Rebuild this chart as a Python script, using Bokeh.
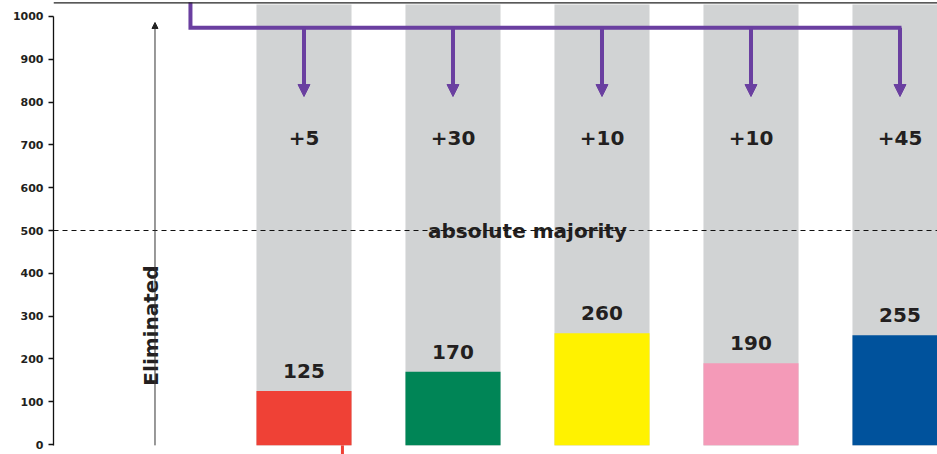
import math
from bokeh.plotting import figure
from bokeh.models import Range1d, FixedTicker, Span, Arrow, NormalHead, ColumnDataSource
from bokeh.core.properties import value
from bokeh.embed import file_html
from bokeh.resources import INLINE

# ---- data ----
positions = [0, 1, 2, 3, 4]
seats = [125, 170, 260, 190, 255]
transfers = ["+5", "+30", "+10", "+10", "+45"]
bar_colors = ["#EF4136", "#008556", "#FFF200", "#F49AB8", "#00529C"]
y_ticks = [0, 100, 200, 300, 400, 500, 600, 700, 800, 900, 1000]
majority = 500
majority_label = "absolute majority"
eliminated_label = "Eliminated"

GRAY = "#D1D3D4"
PURPLE = "#6A3FA0"
TEXT = "#231F20"
FONT = "DejaVu Sans"

p = figure(width=937, height=454, output_backend="svg", toolbar_location=None,
           x_range=Range1d(-1.6812, 4.2517), y_range=Range1d(-23.36, 1037.38),
           x_axis_location=None, min_border_left=53, min_border_right=0,
           min_border_top=0, min_border_bottom=0)
p.grid.visible = False
p.outline_line_color = None
p.background_fill_color = "white"
p.border_fill_color = "white"

yax = p.yaxis[0]
yax.ticker = FixedTicker(ticks=y_ticks)
yax.bounds = (-2, 1000)
yax.axis_line_color = "#111111"
yax.axis_line_width = 1.3
yax.major_tick_line_color = "#111111"
yax.major_tick_line_width = 1.3
yax.major_tick_out = 5
yax.major_tick_in = 0
yax.minor_tick_line_color = None
yax.major_label_standoff = 5
yax.major_label_text_font = FONT
yax.major_label_text_font_style = "bold"
yax.major_label_text_font_size = "11px"
yax.major_label_text_color = TEXT

src = ColumnDataSource(dict(x=positions, seats=seats, color=bar_colors,
                            transfers=transfers))

# top border line
p.add_layout(Span(location=1032, dimension="width", line_color="#222222",
                  line_width=1.3))

# gray background columns
p.vbar(x="x", width=0.638, bottom=-2.5, top=1028, source=src,
       fill_color=GRAY, line_color=None)
# coloured bars
p.vbar(x="x", width=0.638, bottom=-2, top="seats", source=src,
       fill_color="color", line_color=None)

# majority line
p.add_layout(Span(location=majority, dimension="width", line_color="#111111",
                  line_width=1, line_dash="5 4"))
p.text(x=[1.5], y=[majority], text=[majority_label], text_align="center",
       text_baseline="middle", text_font=value(FONT), text_font_style="bold",
       text_font_size="20px", text_color=TEXT)

# value labels
p.text(x="x", y="seats", text="seats", source=src, y_offset=-20,
       text_align="center", text_baseline="middle", text_font=value(FONT),
       text_font_style="bold", text_font_size="20px", text_color=TEXT)

# transfer labels
p.text(x="x", y=717, text="transfers", source=src, text_align="center",
       text_baseline="middle", text_font=value(FONT), text_font_style="bold",
       text_font_size="20px", text_color=TEXT)

# purple bracket
p.line(x=[-0.762, -0.762, positions[-1] + 0.01], y=[1033, 974, 974],
       line_color=PURPLE, line_width=4, line_join="miter")
arr_src = ColumnDataSource(dict(x0=positions, y0=[974] * 5, x1=positions, y1=[813] * 5))
p.add_layout(Arrow(end=NormalHead(size=12, fill_color=PURPLE, line_color=PURPLE),
                   x_start="x0", y_start="y0", x_end="x1", y_end="y1",
                   source=arr_src, line_color=PURPLE, line_width=4))

# eliminated arrow and label
p.add_layout(Arrow(end=NormalHead(size=6, fill_color="#222222", line_color="#222222"),
                   x_start=-1, y_start=-2, x_end=-1, y_end=986,
                   line_color="#333333", line_width=1))
p.text(x=[-1.025], y=[278], text=[eliminated_label], angle=math.pi / 2,
       text_align="center", text_baseline="middle", text_font=value(FONT),
       text_font_style="bold", text_font_size="20px", text_color=TEXT)

# small red stub below the red bar
p.segment(x0=[0.258], y0=[-2], x1=[0.258], y1=[-40], line_color=bar_colors[0],
          line_width=3)

open("out.html", "w").write(file_html(p, INLINE))
